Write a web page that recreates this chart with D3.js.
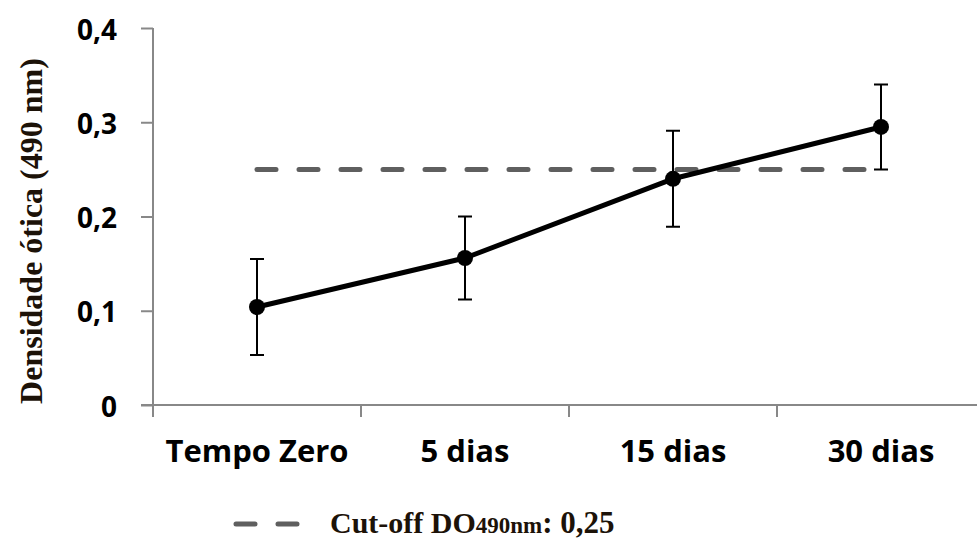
<!DOCTYPE html>
<html>
<head>
<meta charset="utf-8">
<script src="https://cdn.jsdelivr.net/npm/d3@7"></script>
<style>
    body { margin: 0; background: #fff; }
    svg { display: block; }
</style>
</head>
<body>
<div id="chart"></div>
<script>
const categories = ["Tempo Zero", "5 dias", "15 dias", "30 dias"];
const means = [0.104, 0.156, 0.240, 0.295];
const errors = [0.051, 0.044, 0.051, 0.045];
const cutoff = 0.25;
const yTicks = [0, 0.1, 0.2, 0.3, 0.4];

const width = 977,
    height = 540;

const axisColor = "#888888";
const locale = d3.formatLocale({ decimal: ",", thousands: ".", grouping: [3], currency: ["R$", ""] });
const fmt = locale.format(".1f");

const svg = d3.select("#chart").append("svg")
    .attr("width", width)
    .attr("height", height);

const x = d3.scaleBand()
    .domain(categories)
    .range([153, 985])
    .padding(0);

const y = d3.scaleLinear()
    .domain([0, 0.4])
    .range([405, 28]);

const cx = function(d) { return x(d) + x.bandwidth() / 2; };

// y axis
const yAxis = svg.append("g")
    .attr("transform", "translate(" + x.range()[0] + ",0)")
    .call(d3.axisLeft(y)
        .tickValues(yTicks)
        .tickSize(12)
        .tickSizeOuter(0)
        .tickPadding(24)
        .tickFormat(function(d) { return d === 0 ? "0" : fmt(d); }));

yAxis.select(".domain").remove();
yAxis.append("line")
    .attr("x1", 0).attr("x2", 0)
    .attr("y1", y(0.4)).attr("y2", y(0) + 12)
    .attr("stroke", axisColor)
    .attr("stroke-width", 2);
yAxis.selectAll(".tick line")
    .attr("stroke", axisColor)
    .attr("stroke-width", 2);
yAxis.selectAll(".tick text")
    .attr("dy", "0.4em")
    .style("font-family", "'Open Sans', sans-serif")
    .style("font-weight", "bold")
    .style("font-size", "28px")
    .style("fill", "#000");

// x axis
const xAxis = svg.append("g")
    .attr("transform", "translate(0," + y(0) + ")")
    .call(d3.axisBottom(x).tickSize(0).tickSizeOuter(0));

xAxis.select(".domain").remove();
xAxis.append("line")
    .attr("x1", x.range()[0] - 12).attr("x2", x.range()[1])
    .attr("y1", 0).attr("y2", 0)
    .attr("stroke", axisColor)
    .attr("stroke-width", 2);
xAxis.selectAll(".boundary")
    .data(categories)
    .enter().append("line")
    .attr("class", "boundary")
    .attr("x1", function(d) { return x(d); })
    .attr("x2", function(d) { return x(d); })
    .attr("y1", 0).attr("y2", 12)
    .attr("stroke", axisColor)
    .attr("stroke-width", 2);
xAxis.selectAll(".tick text")
    .attr("y", 57)
    .attr("dy", null)
    .style("font-family", "'Open Sans', sans-serif")
    .style("font-weight", "bold")
    .style("font-size", "31px")
    .style("fill", "#000");

// y axis title
svg.append("text")
    .attr("transform", "translate(42,231) rotate(-90)")
    .attr("text-anchor", "middle")
    .style("font-family", "'Liberation Serif', 'Times New Roman', serif")
    .style("font-weight", "bold")
    .style("font-size", "32px")
    .style("fill", "#1c1208")
    .text("Densidade ótica (490 nm)");

// cut-off line
const dash = "19,23";
svg.append("line")
    .attr("x1", cx(categories[0]))
    .attr("x2", cx(categories[categories.length - 1]))
    .attr("y1", y(cutoff))
    .attr("y2", y(cutoff))
    .attr("stroke", "#5f5f5f")
    .attr("stroke-width", 5)
    .attr("stroke-linecap", "round")
    .attr("stroke-dasharray", dash);

// error bars
const data = categories.map(function(c, i) {
    return { cat: c, mean: means[i], err: errors[i] };
});

const bars = svg.append("g").attr("class", "errors");
bars.selectAll(".err")
    .data(data)
    .enter().append("path")
    .attr("class", "err")
    .attr("fill", "none")
    .attr("stroke", "#000")
    .attr("stroke-width", 2)
    .attr("d", function(d) {
        const px = cx(d.cat),
            top = y(d.mean + d.err),
            bot = y(d.mean - d.err);
        return "M" + (px - 7) + "," + top + "H" + (px + 7) +
            "M" + px + "," + top + "V" + bot +
            "M" + (px - 7) + "," + bot + "H" + (px + 7);
    });

// mean line
const line = d3.line()
    .x(function(d) { return cx(d.cat); })
    .y(function(d) { return y(d.mean); });

svg.append("path")
    .datum(data)
    .attr("fill", "none")
    .attr("stroke", "#000")
    .attr("stroke-width", 5)
    .attr("stroke-linejoin", "round")
    .attr("d", line);

svg.selectAll(".dot")
    .data(data)
    .enter().append("circle")
    .attr("class", "dot")
    .attr("cx", function(d) { return cx(d.cat); })
    .attr("cy", function(d) { return y(d.mean); })
    .attr("r", 8)
    .attr("fill", "#000");

// legend
const legend = svg.append("g").attr("class", "legend");
legend.append("line")
    .attr("x1", 236).attr("x2", 298)
    .attr("y1", 524).attr("y2", 524)
    .attr("stroke", "#5f5f5f")
    .attr("stroke-width", 5)
    .attr("stroke-linecap", "round")
    .attr("stroke-dasharray", dash);

const legendText = legend.append("text")
    .attr("x", 330)
    .attr("y", 533)
    .style("font-family", "'Liberation Serif', 'Times New Roman', serif")
    .style("font-weight", "bold")
    .style("fill", "#1c1208");
legendText.append("tspan").style("font-size", "30px").text("Cut-off DO");
legendText.append("tspan").style("font-size", "23px").text("490nm");
legendText.append("tspan").style("font-size", "31px").text(": 0,25");
</script>
</body>
</html>
